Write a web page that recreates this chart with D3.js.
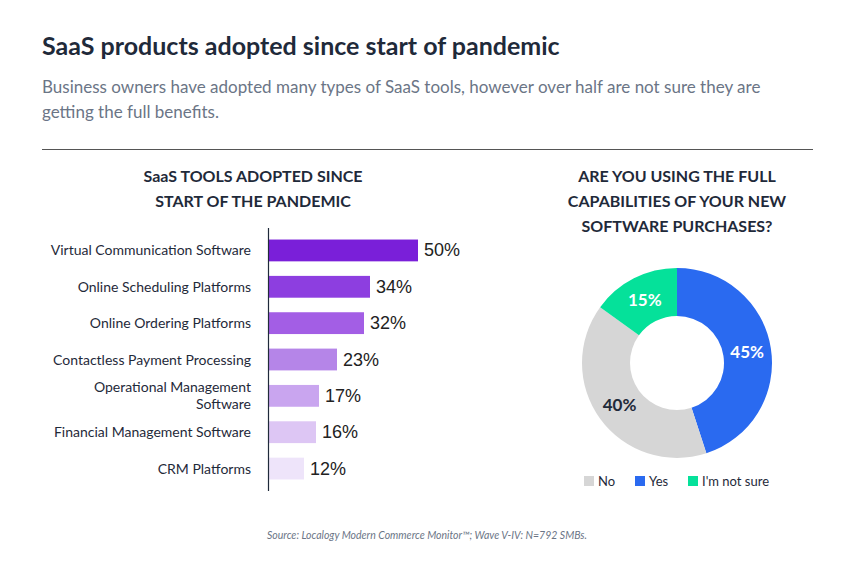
<!DOCTYPE html>
<html><head><meta charset="utf-8">
<script src="https://cdn.jsdelivr.net/npm/d3@7"></script>
<style>
body{margin:0;background:#fff;}
svg text{font-family:Lato,"Noto Sans",sans-serif;}
</style></head>
<body><svg id="c" width="855" height="567"></svg>
<script>
// bar data
const tools = ["Virtual Communication Software","Online Scheduling Platforms","Online Ordering Platforms",
  "Contactless Payment Processing","Operational Management|Software","Financial Management Software","CRM Platforms"];
const toolPct = [50,34,32,23,17,16,12];
const toolColors = ["#7a1fd9","#8d3ee0","#a35ee5","#b585e8","#c9a5ef","#ddc6f4","#eee4fa"];
// donut data
const answers = ["Yes","No","I'm not sure"];
const answerPct = [45,40,15];
const answerColors = {"Yes":"#2a6af0","No":"#d6d6d6","I'm not sure":"#05e19a"};
const legendOrder = ["No","Yes","I'm not sure"];

const svg = d3.select("#c");
const dark = "#1f2a3a";

svg.append("text").attr("x",42).attr("y",55).attr("font-size",25).attr("font-weight",700)
  .attr("fill",dark).text("SaaS products adopted since start of pandemic");
svg.append("text").attr("x",42).attr("y",93).attr("font-size",17).attr("fill","#6b7586")
  .text("Business owners have adopted many types of SaaS tools, however over half are not sure they are");
svg.append("text").attr("x",42).attr("y",118).attr("font-size",17).attr("fill","#6b7586")
  .text("getting the full benefits.");
svg.append("line").attr("x1",42).attr("x2",813).attr("y1",149.5).attr("y2",149.5).attr("stroke","#555");

// ---- bar chart
["SaaS TOOLS ADOPTED SINCE","START OF THE PANDEMIC"].forEach((t,i)=>
  svg.append("text").attr("x",253).attr("y",182+i*25).attr("text-anchor","middle")
    .attr("font-size",16).attr("font-weight",700).attr("fill",dark).text(t));

const x = d3.scaleLinear().domain([0,50]).range([268,418]);
const y = d3.scaleBand().domain(tools).range([225,494]).padding(0.4);

svg.selectAll(".bar").data(tools).join("rect")
  .attr("x",x(0)).attr("y",d=>y(d)).attr("height",y.bandwidth())
  .attr("width",(d,i)=>x(toolPct[i])-x(0)).attr("fill",(d,i)=>toolColors[i]);

svg.selectAll(".val").data(tools).join("text")
  .attr("x",(d,i)=>x(toolPct[i])+6).attr("y",d=>y(d)+y.bandwidth()/2+6)
  .attr("font-size",18).attr("fill","#222").style("font-family","'Liberation Sans',Arial")
  .text((d,i)=>toolPct[i]+"%");

svg.selectAll(".lab").data(tools).join("text")
  .attr("text-anchor","end").attr("font-size",14).attr("fill",dark)
  .each(function(d){
    const parts=d.split("|"), cy=y(d)+y.bandwidth()/2;
    parts.forEach((p,j)=>d3.select(this).append("tspan").attr("x",251)
      .attr("y",cy+5+(j-(parts.length-1)/2)*17).text(p));
  });

svg.append("line").attr("x1",268.5).attr("x2",268.5).attr("y1",228).attr("y2",491)
  .attr("stroke",dark).attr("stroke-width",1.2);

// ---- donut
["ARE YOU USING THE FULL","CAPABILITIES OF YOUR NEW","SOFTWARE PURCHASES?"].forEach((t,i)=>
  svg.append("text").attr("x",677).attr("y",182+i*25).attr("text-anchor","middle")
    .attr("font-size",16).attr("font-weight",700).attr("fill",dark).text(t));

const cx=677, cy=363, R=95, r=47;
const pie = d3.pie().sort(null).value((d,i)=>answerPct[i]);
const arcs = pie(answers);
const arc = d3.arc().innerRadius(r).outerRadius(R);
const g = svg.append("g").attr("transform",`translate(${cx},${cy})`);
g.selectAll("path").data(arcs).join("path").attr("d",arc).attr("fill",d=>answerColors[d.data]);
const lab = d3.arc().innerRadius(71).outerRadius(71);
g.selectAll("text").data(arcs).join("text")
  .attr("transform",d=>`translate(${lab.centroid(d)})`).attr("text-anchor","middle").attr("dy","0.35em")
  .attr("font-size",17).attr("font-weight",700)
  .attr("fill",d=>d.data==="No"?"#1f2a3a":"#fff").text((d,i)=>answerPct[i]+"%");

const lx=[584,635,688];
legendOrder.forEach((k,i)=>{
  svg.append("rect").attr("x",lx[i]).attr("y",476).attr("width",10).attr("height",10).attr("fill",answerColors[k]);
  svg.append("text").attr("x",lx[i]+14).attr("y",486).attr("font-size",13).attr("fill",dark).text(k);
});

svg.append("text").attr("x",427).attr("y",539).attr("text-anchor","middle").attr("font-size",10.5)
  .attr("font-style","italic").attr("fill","#6b7586")
  .text("Source: Localogy Modern Commerce Monitor™; Wave V-IV: N=792 SMBs.");
</script></body></html>
